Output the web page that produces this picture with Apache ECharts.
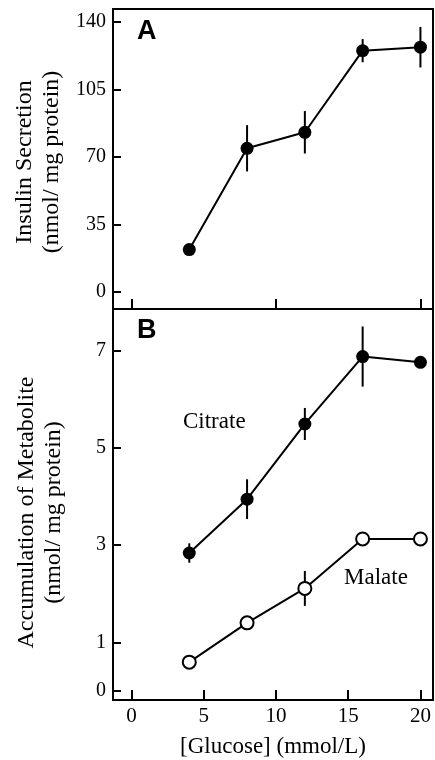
<!DOCTYPE html>
<html>
<head>
<meta charset="utf-8">
<script src="https://cdn.jsdelivr.net/npm/echarts@6/dist/echarts.min.js"></script>
<style>
  html, body { margin: 0; padding: 0; background: #fff; }
  #chart { width: 435px; height: 760px; }
</style>
</head>
<body>
<div id="chart"></div>
<script>
// glucose concentrations (mmol/L)
var glucose = [4, 8, 12, 16, 20]
// panel A: insulin secretion
var insulin = [22, 74.5, 82.8, 125.1, 126.9]
var insulinErr = [0, 12, 11, 6, 10.5]
// panel B: metabolites
var citrate = [2.84, 3.95, 5.5, 6.89, 6.77]
var citrateErr = [0.2, 0.41, 0.33, 0.62, 0]
var malate = [0.59, 1.4, 2.11, 3.13, 3.13]
var malateErr = [0, 0, 0.36, 0, 0]

var xTicksA = [0, 10, 20]
var xTicksB = [0, 5, 10, 15, 20]
var yTicksA = [0, 35, 70, 105, 140]
var yTicksB = [0, 1, 3, 5, 7]

var serif = 'Liberation Serif'

function pts (ys) {
  return glucose.map(function (x, i) { return [x, ys[i]] })
}
function errPts (ys, es) {
  return glucose.map(function (x, i) { return [x, ys[i], es[i]] })
}

function errSeries (xi, yi, data) {
  return {
    type: 'custom',
    xAxisIndex: xi,
    yAxisIndex: yi,
    z: 1,
    silent: true,
    data: data,
    renderItem: function (params, api) {
      var x = api.value(0), y = api.value(1), e = api.value(2)
      if (!e) return
      var p1 = api.coord([x, y - e])
      var p2 = api.coord([x, y + e])
      return {
        type: 'line',
        shape: { x1: p1[0], y1: p1[1], x2: p2[0], y2: p2[1] },
        style: { stroke: '#000', lineWidth: 2 }
      }
    }
  }
}

function lineSeries (xi, yi, data, filled) {
  return {
    type: 'line',
    xAxisIndex: xi,
    yAxisIndex: yi,
    z: 3,
    data: data,
    symbol: 'circle',
    symbolSize: 13,
    showAllSymbol: true,
    lineStyle: { color: '#000', width: 2 },
    itemStyle: { color: filled ? '#000' : '#fff', borderColor: '#000', borderWidth: filled ? 0 : 2 },
    emphasis: { disabled: true }
  }
}

function xAxis (gi, ticks, showLabels) {
  return {
    type: 'value',
    gridIndex: gi,
    min: -1.28,
    max: 20.87,
    splitLine: { show: false },
    axisLine: { show: true, onZero: false, lineStyle: { color: '#000', width: 2 } },
    axisTick: { inside: true, length: 10, customValues: ticks, lineStyle: { color: '#000', width: 2 } },
    axisLabel: { show: showLabels, customValues: ticks, margin: 6, color: '#000', fontFamily: serif, fontSize: 21 },
    name: showLabels ? '[Glucose] (mmol/L)' : '',
    nameLocation: 'middle',
    nameGap: 35,
    nameTextStyle: { color: '#000', fontFamily: serif, fontSize: 23 }
  }
}

function yAxis (gi, min, max, ticks, name, shift) {
  return {
    type: 'value',
    gridIndex: gi,
    min: min,
    max: max,
    splitLine: { show: false },
    axisLine: { show: true, onZero: false, lineStyle: { color: '#000', width: 2 } },
    axisTick: { show: true, inside: true, length: 8, customValues: ticks, lineStyle: { color: '#000', width: 2 } },
    axisLabel: { customValues: ticks, margin: 7, color: '#000', fontFamily: serif, fontSize: 20 },
    name: name,
    nameLocation: 'middle',
    nameRotate: 90,
    nameGap: 46,
    nameTextStyle: { color: '#000', fontFamily: serif, fontSize: 24, lineHeight: 27, padding: [0, shift, 0, 0] }
  }
}

var chart = echarts.init(document.getElementById('chart'))
chart.setOption({
  animation: false,
  backgroundColor: '#fff',
  grid: [
    { left: 113, right: 2, top: 9, height: 300, show: true, borderColor: '#000', borderWidth: 2, backgroundColor: 'transparent', outerBoundsMode: 'none' },
    { left: 113, right: 2, top: 309, bottom: 60, show: true, borderColor: '#000', borderWidth: 2, backgroundColor: 'transparent', outerBoundsMode: 'none' }
  ],
  xAxis: [xAxis(0, xTicksA, false), xAxis(1, xTicksB, true)],
  yAxis: [
    yAxis(0, -8.8, 146.7, yTicksA, 'Insulin Secretion\n(nmol/ mg protein)', 6),
    yAxis(1, -0.19, 7.87, yTicksB, 'Accumulation of Metabolite\n(nmol/ mg protein)', 16)
  ],
  graphic: [
    { type: 'text', left: 137, top: 18, style: { text: 'A', fontFamily: 'Liberation Sans', fontWeight: 'bold', fontSize: 27, fill: '#000' } },
    { type: 'text', left: 137, top: 317, style: { text: 'B', fontFamily: 'Liberation Sans', fontWeight: 'bold', fontSize: 27, fill: '#000' } },
    { type: 'text', left: 183, top: 410, style: { text: 'Citrate', fontFamily: serif, fontSize: 23, fill: '#000' } },
    { type: 'text', left: 344, top: 566, style: { text: 'Malate', fontFamily: serif, fontSize: 23, fill: '#000' } }
  ],
  series: [
    errSeries(0, 0, errPts(insulin, insulinErr)),
    lineSeries(0, 0, pts(insulin), true),
    errSeries(1, 1, errPts(citrate, citrateErr)),
    lineSeries(1, 1, pts(citrate), true),
    errSeries(1, 1, errPts(malate, malateErr)),
    lineSeries(1, 1, pts(malate), false)
  ]
})
</script>
</body>
</html>
